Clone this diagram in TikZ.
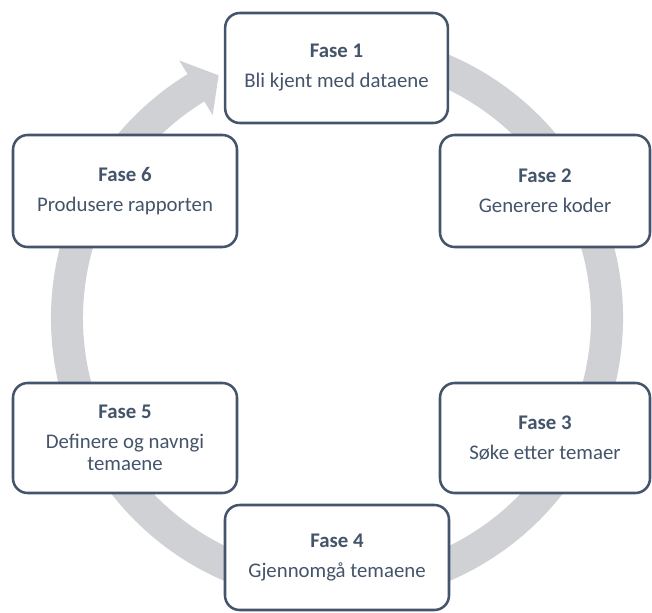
\documentclass[tikz,border=0pt]{standalone}
\usepackage{fontspec}
\setmainfont{Carlito}
\usetikzlibrary{positioning}
\definecolor{slate}{HTML}{44546A}
\definecolor{ringgray}{HTML}{D0D1D5}

\begin{document}
\begin{tikzpicture}[x=0.75pt, y=0.75pt,
      fase/.style={draw=slate, line width=1.9pt, rounded corners=11pt, fill=white, text=slate, align=center, inner sep=0pt, minimum width=168pt, minimum height=82.5pt, font=\fontsize{15.6}{16.7}\selectfont},
      narrow/.style={minimum width=157.5pt}]
    \useasboundingbox (0,0) rectangle (652,612);
    % circular arrow behind the phases
    \begin{scope}[shift={(337,294)}]
      \fill[ringgray] (80:286) arc[start angle=80, end angle=-238.5, radius=286]
        -- (-238.5:302) -- (-244:270) -- (-238.5:238)
        -- (-238.5:254) arc[start angle=-238.5, end angle=80, radius=254] -- cycle;
    \end{scope}
    \node[fase, minimum width=167pt] (f1) at (336.5,544) {{\bfseries Fase 1}\\[5.8pt] Bli kjent med dataene};
    \node[fase, narrow, minimum height=84pt] (f2) at (545,421) {{\bfseries Fase 2}\\[5.8pt] Generere koder};
    \node[fase, narrow] (f3) at (545,174) {{\bfseries Fase 3}\\[5.8pt] Søke etter temaer};
    \node[fase, minimum height=78.75pt] (f4) at (337,54.5) {{\bfseries Fase 4}\\[5.8pt] Gjennomgå temaene};
    \node[fase] (f5) at (125,174) {{\bfseries Fase 5}\\[5.8pt] Definere og navngi\\ temaene};
    \node[fase, minimum height=84pt] (f6) at (125,421) {{\bfseries Fase 6}\\[5.8pt] Produsere rapporten};
\end{tikzpicture}
\end{document}
